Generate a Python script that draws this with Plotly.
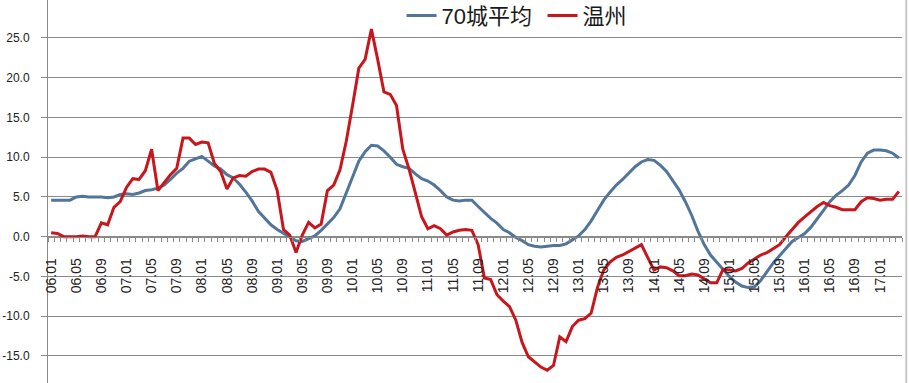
import plotly.graph_objects as go

# Month labels 06.01 ... 17.04
months = [f"{y:02d}.{m:02d}" for y in range(6, 18) for m in range(1, 13)][:136]

avg70 = [
    4.6, 4.6, 4.6, 4.6, 5.0, 5.1, 5.0, 5.0, 5.0, 4.9, 5.0, 5.3,
    5.4, 5.3, 5.5, 5.8, 5.9, 6.1, 6.5, 7.2, 8.0, 8.6, 9.5, 9.8,
    10.1, 9.5, 8.9, 8.5, 7.8, 7.4, 6.6, 5.6, 4.5, 3.2, 2.3, 1.5,
    0.9, 0.4, -0.1, -0.5, -0.6, -0.3, 0.1, 0.8, 1.6, 2.4, 3.5, 5.5,
    7.6, 9.5, 10.7, 11.5, 11.4, 10.8, 10.0, 9.1, 8.8, 8.6, 7.9, 7.3,
    7.0, 6.5, 5.8, 5.0, 4.6, 4.5, 4.6, 4.6, 3.8, 3.0, 2.3, 1.7,
    0.9, 0.5, -0.1, -0.5, -1.0, -1.2, -1.3, -1.2, -1.1, -1.1, -0.9, -0.4,
    0.1, 0.9, 2.0, 3.3, 4.6, 5.6, 6.5, 7.2, 8.0, 8.8, 9.4, 9.7,
    9.6, 9.0, 8.2, 7.1, 5.9, 4.4, 2.7, 0.7, -1.0, -2.3, -3.2, -4.2,
    -5.0, -5.7, -6.2, -6.4, -6.3, -5.5, -4.4, -3.3, -2.4, -1.5, -0.6, -0.1,
    0.4, 1.2, 2.2, 3.3, 4.4, 5.2, 5.8, 6.5, 7.7, 9.4, 10.5, 10.9,
    10.9, 10.8, 10.5, 9.9,
]

wenzhou = [
    0.5, 0.4, 0.0, 0.0, 0.0, 0.1, 0.0, 0.0, 1.75, 1.5, 3.7, 4.4,
    6.2, 7.3, 7.2, 8.3, 11.0, 5.8, 6.8, 7.8, 8.6, 12.4, 12.4, 11.6,
    11.9, 11.8, 9.2, 8.2, 6.0, 7.4, 7.7, 7.6, 8.2, 8.5, 8.5, 8.1,
    5.8, 0.9, 0.2, -2.0, 0.2, 1.8, 1.1, 1.6, 5.8, 6.5, 8.4, 12.0,
    16.5, 21.2, 22.3, 26.1, 22.3, 18.2, 17.9, 16.5, 11.0, 8.5, 5.5, 2.5,
    1.0, 1.4, 1.0, 0.2, 0.6, 0.8, 0.9, 0.8, -1.0, -5.2, -5.4, -7.3,
    -8.1, -8.8, -10.5, -13.3, -15.1, -15.7, -16.4, -16.8, -16.2, -12.6, -13.2, -11.3,
    -10.5, -10.3, -9.6, -6.4, -4.2, -3.2, -2.6, -2.3, -1.9, -1.5, -1.0, -2.6,
    -4.2, -3.8, -3.9, -4.3, -4.9, -4.9, -4.7, -4.8, -5.3, -5.8, -5.8, -4.1,
    -4.2, -4.3, -4.0, -3.3, -2.8, -2.3, -2.0, -1.5, -1.0, 0.0, 0.9, 1.8,
    2.5, 3.2, 3.8, 4.3, 3.9, 3.7, 3.4, 3.4, 3.4, 4.4, 4.9, 4.8,
    4.6, 4.7, 4.7, 5.7,
]

y_ticks = [-15, -10, -5, 0, 5, 10, 15, 20, 25, 30]

idx = list(range(len(months)))
Y_MIN, Y_MAX = -18.4, 29.77

fig = go.Figure()
fig.add_trace(go.Scatter(x=idx, y=avg70, mode="lines", name="70城平均",
                         line=dict(color="#527699", width=3)))
fig.add_trace(go.Scatter(x=idx, y=wenzhou, mode="lines", name="温州",
                         line=dict(color="#C8161D", width=3)))

grid = "#8a8a8a"
fig.update_layout(
    width=909, height=383,
    margin=dict(l=48, r=7, t=0, b=0, autoexpand=False),
    paper_bgcolor="white", plot_bgcolor="white",
    font=dict(family="Liberation Sans, Arial, Noto Sans CJK SC", color="#222"),
    showlegend=True,
    legend=dict(orientation="h", x=0.414, y=1.014, xanchor="left", yanchor="top",
                font=dict(size=22, family="Liberation Sans, Noto Sans CJK SC", color="#1a1a1a"),
                bgcolor="rgba(0,0,0,0)", itemwidth=30, tracegroupgap=0,
                entrywidth=96, entrywidthmode="pixels"),
    xaxis=dict(
        range=[-0.5, len(months) - 0.5],
        tickmode="array", tickvals=idx[::4], ticktext=months[::4],
        tickangle=-90, ticks="", showgrid=False,
        showline=True, linecolor=grid, linewidth=1,
        anchor="free", position=(0 - Y_MIN) / (Y_MAX - Y_MIN),
        tickfont=dict(size=14, color="#222"),
        ticklabelstandoff=15, automargin=False,
        minor=dict(tick0=-0.5, dtick=1, ticks="outside", ticklen=4,
                   tickcolor=grid, showgrid=False),
        zeroline=False, fixedrange=True,
    ),
    yaxis=dict(
        range=[Y_MIN, Y_MAX],
        tickmode="array", tickvals=y_ticks,
        ticktext=[f"{v:.1f}" for v in y_ticks],
        showgrid=True, gridcolor=grid, gridwidth=1,
        ticks="outside", ticklen=6, tickcolor=grid,
        showline=True, linecolor=grid, linewidth=1,
        zeroline=False, tickfont=dict(size=12, color="#222"),
        ticklabelstandoff=9, automargin=False,
    ),
    annotations=[dict(text=f"{y_ticks[-1]:.1f}", xref="paper", yref="y",
                      x=-0.021, y=y_ticks[-1], xanchor="right", yanchor="middle",
                      showarrow=False, font=dict(size=12, color="#222"))],
    shapes=[dict(type="line", xref="paper", yref="paper",
                 x0=1.005, x1=1.005, y0=0, y1=1,
                 line=dict(color="#c8c8c8", width=2))],
)

fig.write_html(
    "out.html",
    config={"displayModeBar": False},
    post_script="document.body.style.margin='0';document.body.style.overflow='hidden';",
)
